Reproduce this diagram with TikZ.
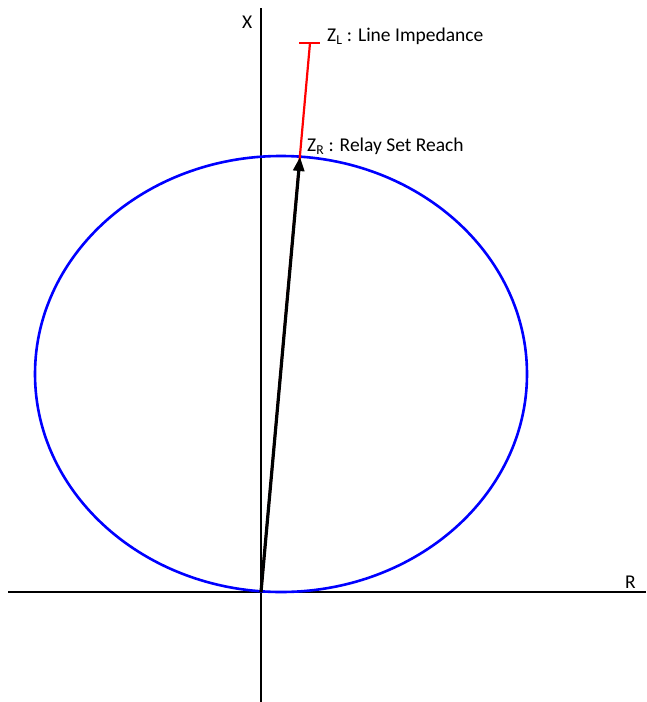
\documentclass[tikz,border=0pt]{standalone}
\usepackage{fontspec}
\setmainfont{Carlito}
\usetikzlibrary{arrows.meta}

\begin{document}
\begin{tikzpicture}[x=1pt, y=-1pt,
      axis/.style={line width=2.2pt, draw=black},
      mho/.style={line width=2.6pt, draw=blue},
      reach/.style={-{Triangle[length=14pt, width=11pt]}, line width=3.2pt, draw=black},
      line/.style={line width=2.2pt, draw=red},
      etq/.style={font=\fontsize{19.5}{21}\selectfont, inner sep=0pt, anchor=west}
    ]
    \useasboundingbox (0,0) rectangle (646,702);
    \coordinate (o)  at (261,592);
    \coordinate (zr) at (300,157);
    \coordinate (zl) at (310,43);
    % axes
    \draw[axis] (8,592) -- (646,592);
    \draw[axis] (261,8) -- (261,702);
    \node[etq] (xlab) at (242,22) {X};
    \node[etq] (rlab) at (625,582) {R};
    % characteristic
    \draw[mho] (281,374) ellipse [x radius=246, y radius=218];
    % line impedance
    \draw[line] (o) -- (zl);
    \draw[line] (299,43) -- (320,43);
    \draw[reach] (o) -- (zr);
    \node[etq] (zllab) at (327,36) {Z\textsubscript{L} : Line Impedance};
    \node[etq] (zrlab) at (307,146) {Z\textsubscript{R} : Relay Set Reach};
  \end{tikzpicture}
\end{document}
